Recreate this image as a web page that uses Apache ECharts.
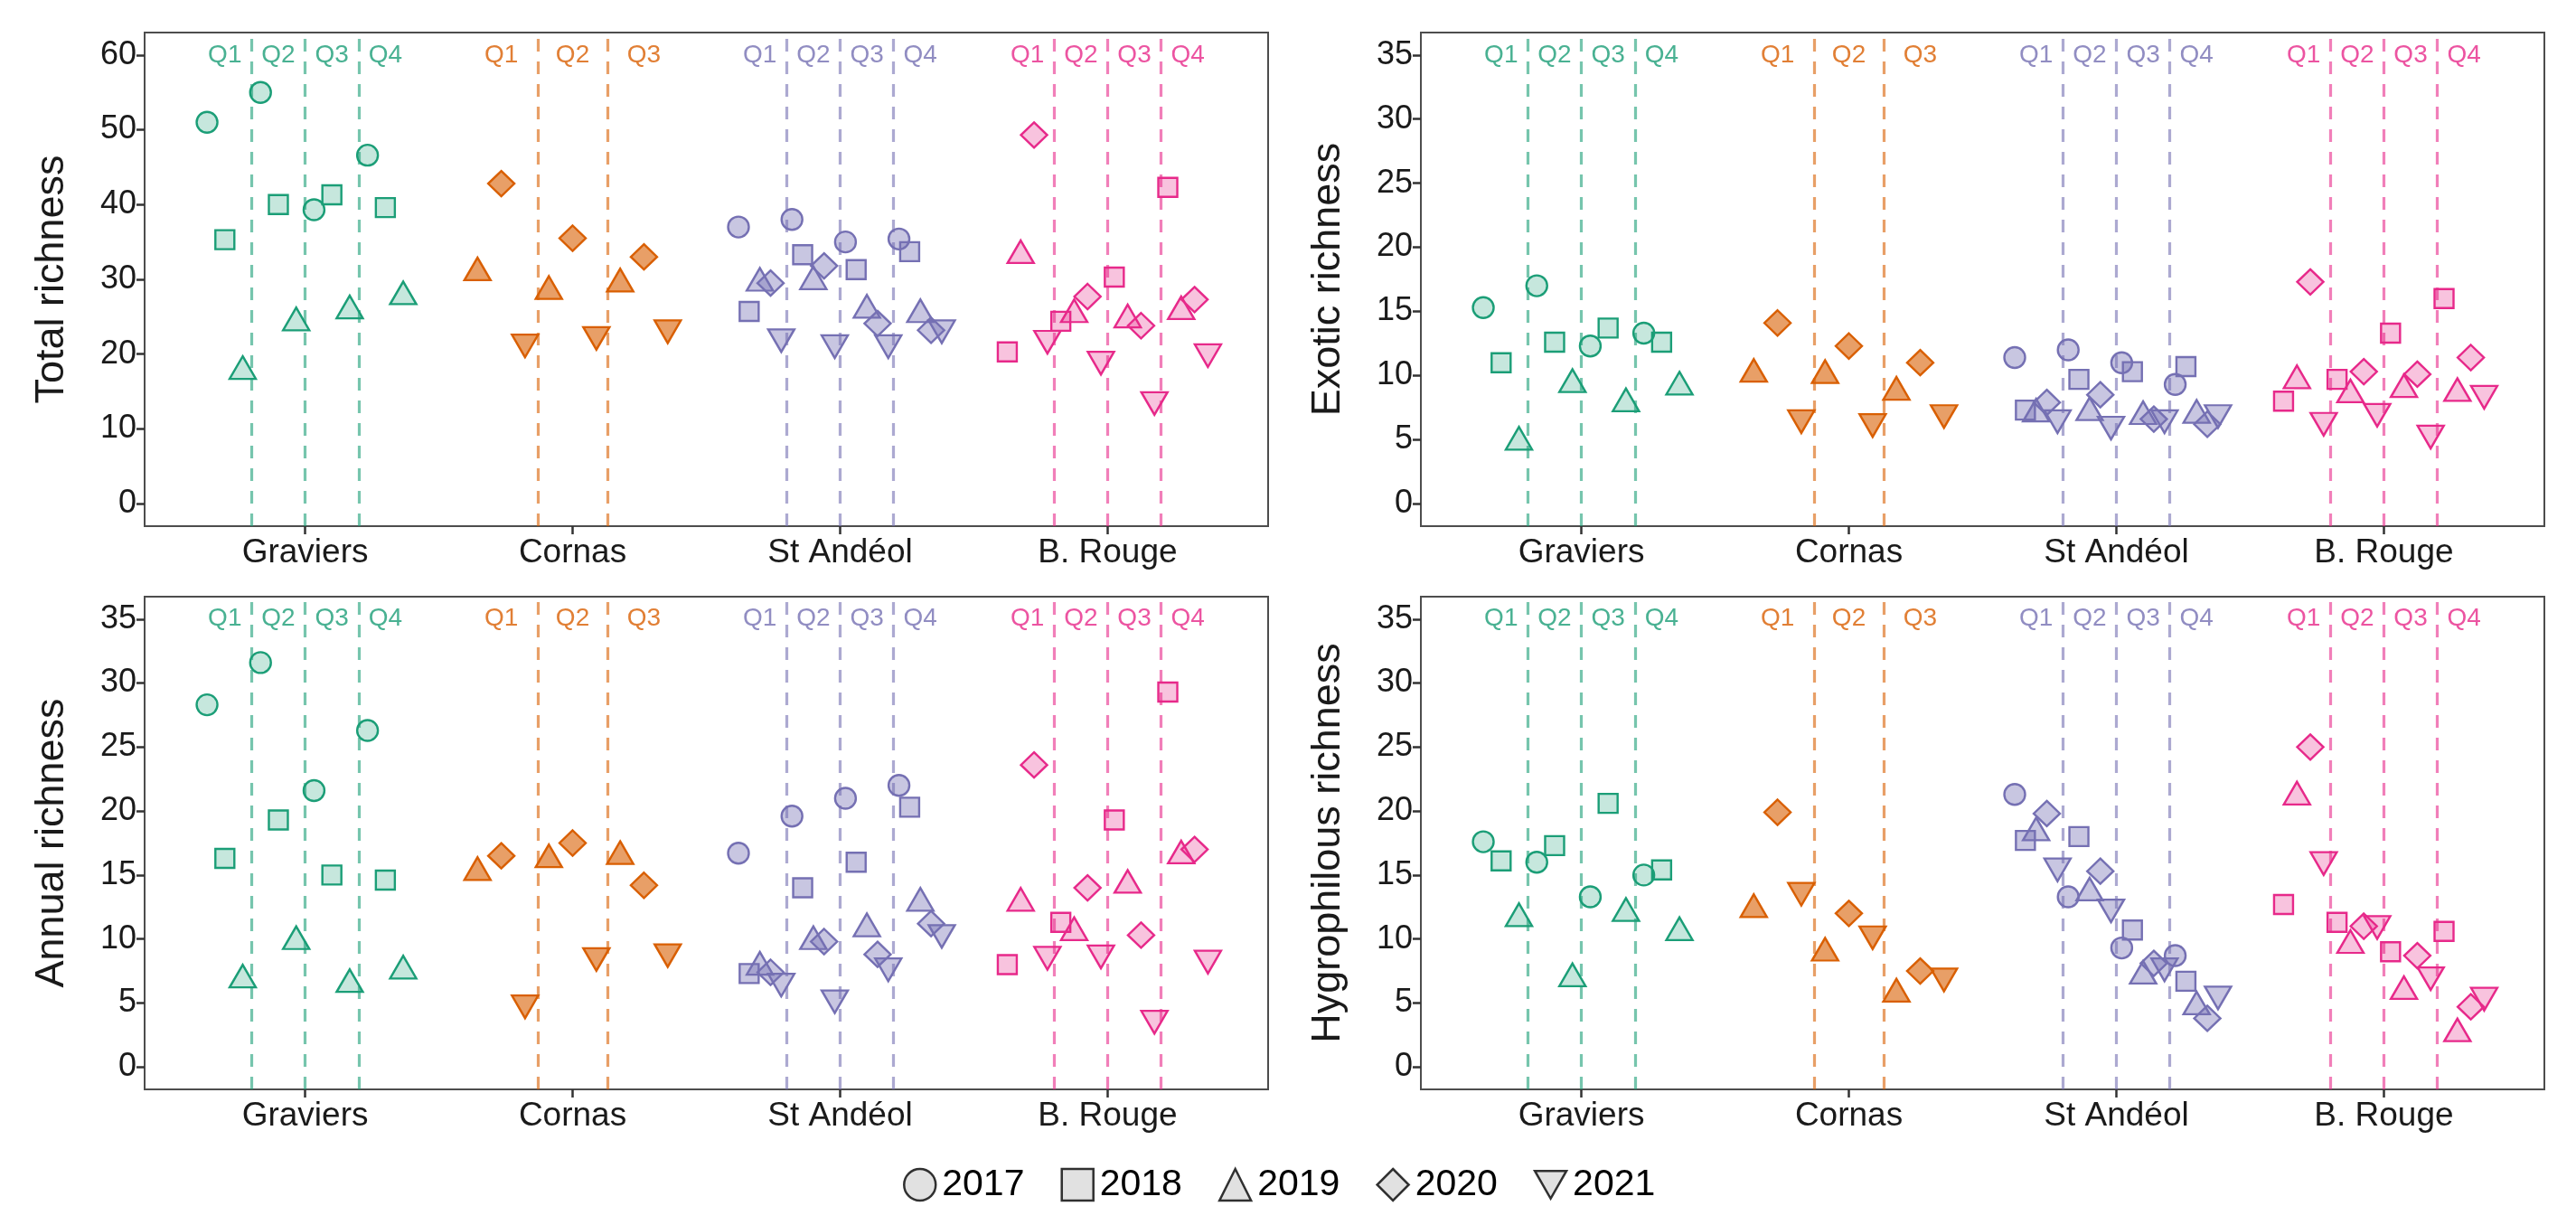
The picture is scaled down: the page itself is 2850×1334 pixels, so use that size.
<!DOCTYPE html>
<html><head><meta charset="utf-8">
<script src="https://cdn.jsdelivr.net/npm/echarts@6/dist/echarts.min.js"></script>
<style>html,body{margin:0;padding:0;background:#fff}#c{width:2850px;height:1334px}</style>
</head><body><div id="c"></div>
<script>
// ---------- categories ----------
const sites = ['Graviers', 'Cornas', 'St Andéol', 'B. Rouge'];
const siteYears = [
  ['2017', '2018', '2019'],
  ['2019', '2020', '2021'],
  ['2017', '2018', '2019', '2020', '2021'],
  ['2018', '2019', '2020', '2021']
];
const siteQuadrats = [
  ['Q1', 'Q2', 'Q3', 'Q4'],
  ['Q1', 'Q2', 'Q3'],
  ['Q1', 'Q2', 'Q3', 'Q4'],
  ['Q1', 'Q2', 'Q3', 'Q4']
];
const legendYears = ['2017', '2018', '2019', '2020', '2021'];
const panelTitles = ['Total richness', 'Exotic richness', 'Annual richness', 'Hygrophilous richness'];
const ticksTotal = [0, 10, 20, 30, 40, 50, 60];
const ticksOther = [0, 5, 10, 15, 20, 25, 30, 35];

// ---------- values: [quadrat][year in siteYears order] ----------
const totalGraviers = [[51, 35.3, 18.2], [55, 40, 24.7], [39.3, 41.3, 26.3], [46.6, 39.6, 28.2]];
const totalCornas = [[31.4, 42.8, 21.1], [28.9, 35.5, 22.1], [29.9, 33.0, 23.0]];
const totalStAndeol = [[37.0, 25.7, 30.0, 29.5, 21.8], [38.0, 33.3, 30.2, 31.8, 21.0], [35.0, 31.3, 26.4, 24.1, 21.0], [35.4, 33.7, 25.8, 23.2, 23.0]];
const totalBRouge = [[20.3, 33.7, 49.3, 21.6], [24.4, 25.8, 27.7, 18.8], [30.3, 25.1, 23.8, 13.4], [42.3, 26.2, 27.3, 19.8]];

const exoticGraviers = [[15.3, 11.0, 5.1], [17.0, 12.6, 9.6], [12.3, 13.7, 8.1], [13.3, 12.6, 9.4]];
const exoticCornas = [[10.4, 14.1, 6.4], [10.3, 12.3, 6.1], [9.0, 11.0, 6.8]];
const exoticStAndeol = [[11.4, 7.3, 7.3, 7.9, 6.4], [12.0, 9.7, 7.4, 8.5, 5.9], [11.0, 10.3, 7.1, 6.6, 6.4], [9.3, 10.7, 7.2, 6.2, 6.8]];
const exoticBRouge = [[8.0, 9.9, 17.3, 6.2], [9.7, 8.8, 10.3, 6.9], [13.3, 9.2, 10.1, 5.2], [16.0, 8.9, 11.4, 8.3]];

const annualGraviers = [[28.3, 16.3, 7.1], [31.6, 19.3, 10.1], [21.6, 15.0, 6.75], [26.3, 14.6, 7.8]];
const annualCornas = [[15.5, 16.5, 4.7], [16.5, 17.5, 8.4], [16.75, 14.2, 8.7]];
const annualStAndeol = [[16.7, 7.3, 8.1, 7.4, 6.4], [19.6, 14.0, 10.1, 9.8, 5.1], [21.0, 16.0, 11.1, 8.8, 7.6], [22.0, 20.3, 13.1, 11.2, 10.2]];
const annualBRouge = [[8.0, 13.1, 23.6, 8.5], [11.3, 10.8, 14.0, 8.6], [19.3, 14.5, 10.3, 3.5], [29.3, 16.8, 17.0, 8.2]];

const hygroGraviers = [[17.6, 16.1, 11.9], [16.0, 17.3, 7.2], [13.3, 20.6, 12.3], [15.0, 15.4, 10.8]];
const hygroCornas = [[12.6, 19.9, 13.5], [9.2, 12.0, 10.1], [6.0, 7.5, 6.8]];
const hygroStAndeol = [[21.3, 17.7, 18.6, 19.8, 15.4], [13.3, 18.0, 13.9, 15.3, 12.2], [9.3, 10.7, 7.4, 8.1, 7.6], [8.7, 6.7, 5.0, 3.8, 5.4]];
const hygroBRouge = [[12.7, 21.4, 25.0, 15.9], [11.3, 9.8, 11.0, 10.9], [9.0, 6.2, 8.7, 6.9], [10.6, 2.9, 4.7, 5.3]];

// ---------- styling ----------
const siteColors = ['#1B9E77', '#D95F02', '#7570B3', '#E7298A'];
const fillAlpha = [0.25, 0.6, 0.4, 0.28];
function rgba(hex, a) {
  const r = parseInt(hex.slice(1, 3), 16), g = parseInt(hex.slice(3, 5), 16), b = parseInt(hex.slice(5, 7), 16);
  return 'rgba(' + r + ',' + g + ',' + b + ',' + a + ')';
}
const yearSymbol = { '2017': 'circle', '2018': 'rect', '2019': 'triangle', '2020': 'diamond', '2021': 'triangle' };
const yearSize = { '2017': 23, '2018': 21, '2019': [29, 25], '2020': [29, 28], '2021': [29, 25] };
const yearRotate = { '2017': 0, '2018': 0, '2019': 0, '2020': 0, '2021': 180 };
const FONT = "'Liberation Sans', Arial, sans-serif";
const TXT = '#1a1a1a';
const BORDER = '#4d4d4d';

const panels = [
  { title: panelTitles[0], data: [totalGraviers, totalCornas, totalStAndeol, totalBRouge], top: 60, ticks: ticksTotal },
  { title: panelTitles[1], data: [exoticGraviers, exoticCornas, exoticStAndeol, exoticBRouge], top: 35, ticks: ticksOther },
  { title: panelTitles[2], data: [annualGraviers, annualCornas, annualStAndeol, annualBRouge], top: 35, ticks: ticksOther },
  { title: panelTitles[3], data: [hygroGraviers, hygroCornas, hygroStAndeol, hygroBRouge], top: 35, ticks: ticksOther }
];
const gridBoxes = [
  { left: 160, top: 36, width: 1243, height: 546 },
  { left: 1572, top: 36, width: 1243, height: 546 },
  { left: 160, top: 660, width: 1243, height: 545 },
  { left: 1572, top: 660, width: 1243, height: 545 }
];

// dodge position (ggplot position_dodge, width 0.8)
function xpos(s, q, yi) {
  const ny = siteYears[s].length, nq = siteQuadrats[s].length, n = ny * nq;
  const g = q * ny + yi;
  return (s + 1) - 0.4 + (g + 0.5) * 0.8 / n;
}

const grids = [], xAxes = [], yAxes = [], series = [];
panels.forEach((P, p) => {
  grids.push(Object.assign({ show: true, borderColor: BORDER, borderWidth: 2, backgroundColor: '#fff', containLabel: false }, gridBoxes[p]));
  xAxes.push({
    gridIndex: p, type: 'value', min: 0.4, max: 4.6,
    axisLine: { show: true, onZero: false, lineStyle: { color: BORDER, width: 2 } },
    axisTick: { show: true, customValues: [1, 2, 3, 4], length: 9, lineStyle: { color: '#333', width: 2.5 } },
    axisLabel: { customValues: [1, 2, 3, 4], formatter: v => sites[Math.round(v) - 1], fontSize: 37, fontFamily: FONT, color: TXT, margin: 11 },
    splitLine: { show: false }
  });
  const span = P.top * 0.05;
  yAxes.push({
    gridIndex: p, type: 'value', min: -span, max: P.top + span,
    name: P.title, nameLocation: 'middle', nameGap: 80,
    nameTextStyle: { fontSize: 45, fontFamily: FONT, color: TXT },
    axisLine: { show: true, lineStyle: { color: BORDER, width: 2 } },
    axisTick: { show: true, customValues: P.ticks, length: 9, lineStyle: { color: '#333', width: 2.5 } },
    axisLabel: { customValues: P.ticks, fontSize: 36, fontFamily: FONT, color: TXT, margin: 9 },
    splitLine: { show: false }
  });
  sites.forEach((site, s) => {
    const nq = siteQuadrats[s].length;
    // quadrat labels + dashed separators
    const lines = [];
    for (let k = 1; k < nq; k++) lines.push({ xAxis: (s + 1) - 0.4 + k * 0.8 / nq });
    series.push({
      type: 'scatter', name: 'q-' + p + '-' + s, xAxisIndex: p, yAxisIndex: p, z: 1,
      symbolSize: 0, silent: true,
      data: siteQuadrats[s].map((ql, q) => [(s + 1) - 0.4 + (q + 0.5) * 0.8 / nq, P.top, ql]),
      label: { show: true, position: 'inside', formatter: d => d.value[2], color: siteColors[s], fontSize: 28, fontFamily: FONT },
      markLine: {
        silent: true, symbol: ['none', 'none'], label: { show: false },
        lineStyle: { color: rgba(siteColors[s], 0.6), width: 3.2, type: [14, 11] },
        emphasis: { disabled: true },
        data: lines
      }
    });
    // points, one series per year
    siteYears[s].forEach((yr, yi) => {
      series.push({
        type: 'scatter', name: 'pt-' + p + '-' + s + '-' + yr, xAxisIndex: p, yAxisIndex: p, z: 3,
        symbol: yearSymbol[yr], symbolSize: yearSize[yr], symbolRotate: yearRotate[yr],
        itemStyle: { color: rgba(siteColors[s], fillAlpha[s]), borderColor: siteColors[s], borderWidth: 2.4, opacity: 1 },
        data: P.data[s].map((qv, q) => [xpos(s, q, yi), qv[yi]])
      });
    });
  });
});

// legend dummy series
const legendIcons = ['circle', 'rect', 'triangle', 'diamond', 'path://M0,0L2,0L1,1.75Z'];
legendYears.forEach((yr, i) => {
  series.push({
    type: 'scatter', name: yr, xAxisIndex: 0, yAxisIndex: 0, data: [],
    symbol: legendIcons[i],
    itemStyle: { color: '#d9d9d9', borderColor: '#000', borderWidth: 2.5 }
  });
});

const chart = echarts.init(document.getElementById('c'), null, { renderer: 'canvas' });
chart.setOption({
  animation: false,
  backgroundColor: '#fff',
  textStyle: { fontFamily: FONT },
  grid: grids, xAxis: xAxes, yAxis: yAxes,
  legend: {
    left: 994, top: 1285, itemWidth: 35, itemHeight: 35, itemGap: 40, selectedMode: false,
    textStyle: { fontSize: 41, fontFamily: FONT, color: '#000', padding: [0, 0, 0, 2] },
    itemStyle: { color: '#d9d9d9', borderColor: '#000', borderWidth: 2.5 },
    data: legendYears.map((yr, i) => ({ name: yr, icon: legendIcons[i] }))
  },
  series: series
});
</script></body></html>
